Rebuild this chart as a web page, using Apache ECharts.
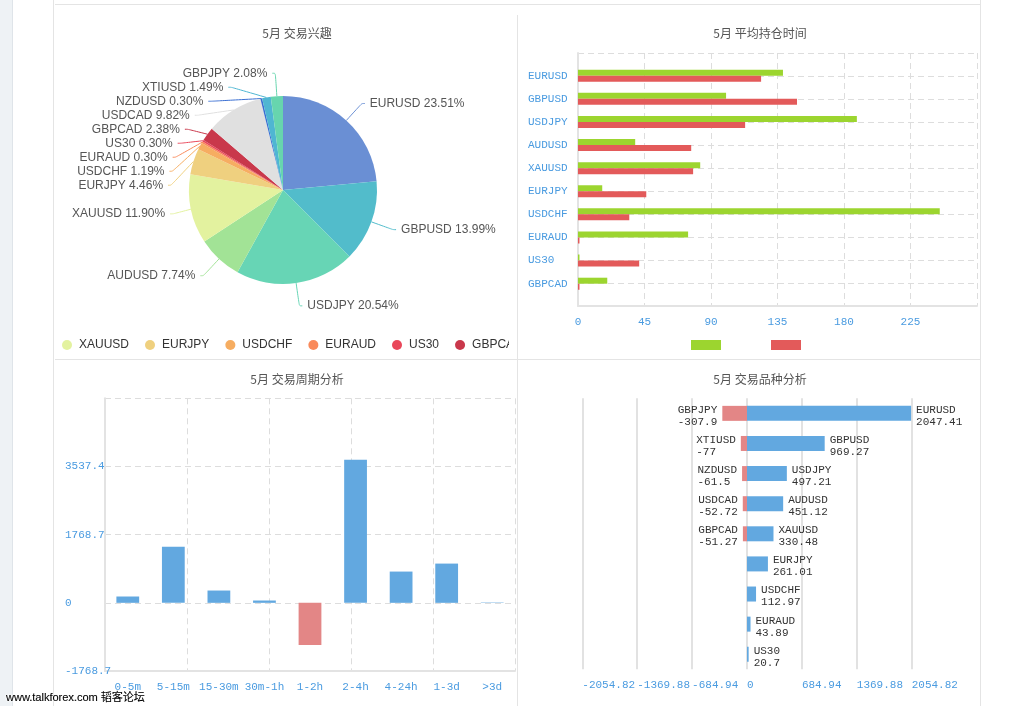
<!DOCTYPE html>
<html><head><meta charset="utf-8">
<script src="https://cdn.jsdelivr.net/npm/echarts@6/dist/echarts.min.js"></script>
<style>
html,body{margin:0;padding:0;background:#fff;width:1021px;height:706px;overflow:hidden;position:relative;font-family:"Liberation Sans",Arial,sans-serif}
.ln{position:absolute;background:#e4e4e4}
.c{position:absolute}
#wm{position:absolute;left:6px;top:688px;font:11px "Liberation Sans","Noto Sans CJK SC",sans-serif;color:#000;white-space:nowrap;text-shadow:0 0 2px #fff,0 0 2px #fff,0 0 3px #fff,0.3px 0 0 #000;z-index:5}
</style></head><body>
<div style="position:absolute;left:0;top:0;width:12px;height:706px;background:#eef2f5;border-right:1px solid #dfe4e9"></div>
<div class="ln" style="left:53px;top:0;width:1px;height:706px"></div>
<div class="ln" style="left:55px;top:4px;width:925px;height:1px"></div>
<div class="ln" style="left:980px;top:0;width:1px;height:706px"></div>
<div class="ln" style="left:517px;top:15px;width:1px;height:691px"></div>
<div class="ln" style="left:55px;top:359px;width:925px;height:1px"></div>
<div id="c1" class="c" style="left:55px;top:5px;width:454px;height:353px"></div>
<div id="c2" class="c" style="left:518px;top:5px;width:462px;height:353px"></div>
<div id="c3" class="c" style="left:55px;top:360px;width:462px;height:346px"></div>
<div id="c4" class="c" style="left:518px;top:360px;width:462px;height:346px"></div>
<div id="wm">www.talkforex.com 韬客论坛</div>
<script>
// ---------- data ----------
const pieNames = ['EURUSD','GBPUSD','USDJPY','AUDUSD','XAUUSD','EURJPY','USDCHF','EURAUD','US30','GBPCAD','USDCAD','NZDUSD','XTIUSD','GBPJPY'];
const pieValues = [23.51,13.99,20.54,7.74,11.90,4.46,1.19,0.30,0.30,2.38,9.82,0.30,1.49,2.08];
const pieColors = ['#6a8fd4','#52bccb','#67d5b5','#a2e396','#e3f29f','#efd07f','#f6ad61','#f98a5b','#e9475a','#c9384b','#e0e0e0','#3a6fd2','#4fb6d2','#67d5ae'];

const holdCats = ['EURUSD','GBPUSD','USDJPY','AUDUSD','XAUUSD','EURJPY','USDCHF','EURAUD','US30','GBPCAD'];
const holdA = [138.7,100.2,188.7,38.7,82.7,16.4,244.8,74.5,1,19.8];
const holdB = [123.9,148.2,113.1,76.6,77.9,46.2,34.7,1,41.4,1];
const holdTicks = [0,45,90,135,180,225,270];

const periods = ['0-5m','5-15m','15-30m','30m-1h','1-2h','2-4h','4-24h','1-3d','>3d'];
const periodValues = [164,1458,319,60,-1096,3710,811,1018,10];
const periodTicks = [-1768.7,0,1768.7,3537.4,5306.1];

const posNames = ['EURUSD','GBPUSD','USDJPY','AUDUSD','XAUUSD','EURJPY','USDCHF','EURAUD','US30'];
const posValues = [2047.41,969.27,497.21,451.12,330.48,261.01,112.97,43.89,20.7];
const negNames = ['GBPJPY','XTIUSD','NZDUSD','USDCAD','GBPCAD'];
const negValues = [-307.9,-77,-61.5,-52.72,-51.27];
const profitTicks = [-2054.82,-1369.88,-684.94,0,684.94,1369.88,2054.82];

// ---------- styles ----------
const MONO = '"Liberation Mono","DejaVu Sans Mono",monospace';
const BLUE_TXT = '#4a9be0';
const titleStyle = {fontSize:12,fontWeight:'normal',color:'#555',fontFamily:'"Noto Sans CJK SC",sans-serif'};
const dashed = {show:true,lineStyle:{color:'#dddddd',type:[6,4],width:1}};
const axLine = {show:true,lineStyle:{color:'#e3e3e3',width:2}};

// ---------- chart 1: pie ----------
const c1 = echarts.init(document.getElementById('c1'));
c1.setOption({
  animation:false,
  color: pieColors,
  title:{text:'5月 交易兴趣',left:242,textAlign:'center',top:22,padding:0,textStyle:titleStyle},
  legend:{data:pieNames.slice(4),left:2,top:329,width:2000,icon:'circle',itemWidth:14,itemHeight:10,itemGap:16,
    textStyle:{fontSize:12,color:'#333',fontFamily:'"Liberation Sans",Arial'}},
  series:[{type:'pie',center:[228,185],radius:94,startAngle:90,clockwise:true,
    data: pieNames.map((n,i)=>({name:n,value:pieValues[i]})),
    label:{show:true,color:'#555',fontSize:12,fontFamily:'"Liberation Sans",Arial',overflow:'none',
      formatter:p=>p.name+' '+p.value.toFixed(2)+'%'},
    labelLine:{length:23,length2:3,smooth:0.3},
    itemStyle:{borderWidth:0}
  }]
});

// ---------- chart 2: holding time ----------
const c2 = echarts.init(document.getElementById('c2'));
c2.setOption({
  animation:false,
  title:{text:'5月 平均持仓时间',left:242,textAlign:'center',top:22,padding:0,textStyle:titleStyle},
  legend:{data:['s1','s2'],left:168,top:330,icon:'rect',itemWidth:30,itemHeight:10,itemGap:50,formatter:()=>'',textStyle:{fontSize:1}},
  grid:[{left:60,top:48,width:399,height:253},{left:60,top:70.7,width:399,height:208}],
  xAxis:[
    {type:'value',gridIndex:0,min:holdTicks[0],max:holdTicks[holdTicks.length-1],interval:holdTicks[1]-holdTicks[0],
      axisLine:axLine,axisTick:{show:false},splitLine:dashed,
      axisLabel:{color:BLUE_TXT,fontFamily:MONO,fontSize:11,margin:11,showMaxLabel:false}},
    {type:'value',gridIndex:1,min:holdTicks[0],max:holdTicks[holdTicks.length-1],show:false}
  ],
  yAxis:[
    {type:'value',gridIndex:0,min:0,max:11,interval:1,axisLine:axLine,axisTick:{show:false},axisLabel:{show:false},splitLine:dashed},
    {type:'category',gridIndex:1,data:holdCats,inverse:true,boundaryGap:false,axisLine:{show:false},axisTick:{show:false},splitLine:{show:false},
      axisLabel:{color:BLUE_TXT,fontFamily:MONO,fontSize:11,align:'left',margin:50}}
  ],
  series:[
    {name:'s1',type:'bar',xAxisIndex:1,yAxisIndex:1,data:holdA,barWidth:6,barGap:'0%',itemStyle:{color:'#9cd52f'}},
    {name:'s2',type:'bar',xAxisIndex:1,yAxisIndex:1,data:holdB,barWidth:6,barGap:'0%',itemStyle:{color:'#e35a5a'}}
  ]
});

// ---------- chart 3: period ----------
const c3 = echarts.init(document.getElementById('c3'));
c3.setOption({
  animation:false,
  title:{text:'5月 交易周期分析',left:242,textAlign:'center',top:13,padding:0,textStyle:titleStyle},
  grid:{left:50,top:38.3,width:410,height:272.7},
  xAxis:[
    {type:'category',data:periods,axisLine:Object.assign({onZero:false},axLine),axisTick:{show:false},splitLine:{show:false},
      axisLabel:{color:BLUE_TXT,fontFamily:MONO,fontSize:11,margin:11,interval:0}},
    {type:'value',min:0,max:5,interval:1,show:true,axisLine:{show:false},axisTick:{show:false},axisLabel:{show:false},splitLine:dashed,position:'top'}
  ],
  yAxis:{type:'value',min:periodTicks[0],max:periodTicks[periodTicks.length-1],interval:periodTicks[1]-periodTicks[0],
    axisLine:axLine,axisTick:{show:false},splitLine:dashed,
    axisLabel:{color:BLUE_TXT,fontFamily:MONO,fontSize:11,align:'left',margin:40,showMaxLabel:false,padding:[0,0,6,0],
      formatter:v=>String(Math.round(v*10)/10)}},
  series:[{type:'bar',xAxisIndex:0,data:periodValues,barWidth:'50%',
    itemStyle:{color:p=>p.value<0?'#e38686':'#62a8e0'}}]
});

// ---------- chart 4: symbols ----------
const c4 = echarts.init(document.getElementById('c4'));
const negPadded = posNames.map((_,i)=> i<negValues.length ? negValues[i] : '-');
const richA = {a:{fontFamily:MONO,fontSize:11,color:'#333',lineHeight:12,align:'left'}};
c4.setOption({
  animation:false,
  title:{text:'5月 交易品种分析',left:242,textAlign:'center',top:13,padding:0,textStyle:titleStyle},
  grid:{left:64.3,top:38.3,width:329.4,height:271},
  xAxis:{type:'value',min:profitTicks[0],max:profitTicks[profitTicks.length-1],interval:profitTicks[4]-profitTicks[3],
    axisLine:{show:false},axisTick:{show:false},
    splitLine:{show:true,lineStyle:{color:'#e2e2e2',width:2}},
    axisLabel:{color:BLUE_TXT,fontFamily:MONO,fontSize:11,margin:10,align:'left',
      formatter:v=>String(Math.round(v*100)/100)}},
  yAxis:{type:'category',data:posNames,inverse:true,show:false},
  series:[
    {type:'bar',data:posValues,barWidth:15,barGap:'-100%',itemStyle:{color:'#62a8e0'},
      label:{show:true,position:'right',distance:5,offset:[0,2.5],
        formatter:p=>'{a|'+posNames[p.dataIndex]+'}\n{a|'+posValues[p.dataIndex]+'}',
        rich:richA}},
    {type:'bar',data:negPadded,barWidth:15,barGap:'-100%',itemStyle:{color:'#e38686'},
      label:{show:true,position:'left',distance:5,offset:[0,2.5],
        formatter:p=>'{a|'+negNames[p.dataIndex]+'}\n{a|'+negValues[p.dataIndex]+'}',
        rich:richA}}
  ]
});
</script>
</body></html>
